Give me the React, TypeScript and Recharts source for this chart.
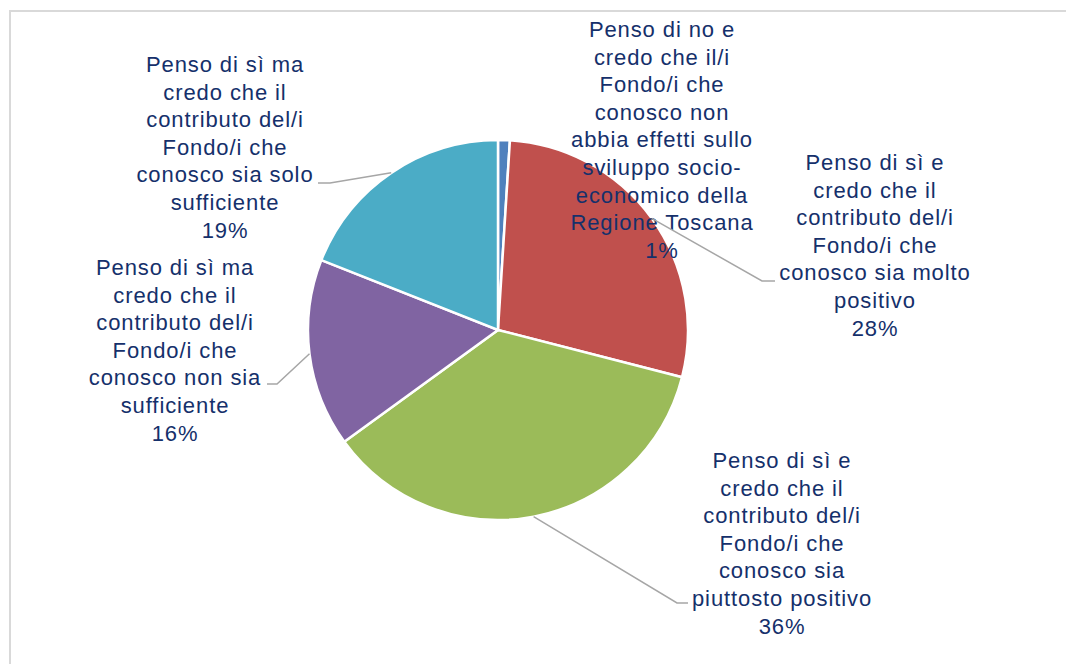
import { PieChart, Pie, Cell } from 'recharts';

const categories = [
  'Penso di no e credo che il/i Fondo/i che conosco non abbia effetti sullo sviluppo socio-economico della Regione Toscana',
  'Penso di sì e credo che il contributo del/i Fondo/i che conosco sia molto positivo',
  'Penso di sì e credo che il contributo del/i Fondo/i che conosco sia piuttosto positivo',
  'Penso di sì ma credo che il contributo del/i Fondo/i che conosco non sia sufficiente',
  'Penso di sì ma credo che il contributo del/i Fondo/i che conosco sia solo sufficiente',
];
const shares = [1, 28, 36, 16, 19];

// how each label wraps in the picture
const labelLines = [
  ['Penso di no e', 'credo che il/i', 'Fondo/i che', 'conosco non', 'abbia effetti sullo', 'sviluppo socio-', 'economico della', 'Regione Toscana'],
  ['Penso di sì e', 'credo che il', 'contributo del/i', 'Fondo/i che', 'conosco sia molto', 'positivo'],
  ['Penso di sì e', 'credo che il', 'contributo del/i', 'Fondo/i che', 'conosco sia', 'piuttosto positivo'],
  ['Penso di sì ma', 'credo che il', 'contributo del/i', 'Fondo/i che', 'conosco non sia', 'sufficiente'],
  ['Penso di sì ma', 'credo che il', 'contributo del/i', 'Fondo/i che', 'conosco sia solo', 'sufficiente'],
];

const COLORS = ['#4F81BD', '#C0504D', '#9BBB59', '#8064A2', '#4BACC6'];
const TEXT = '#15306B';
const LINE_H = 27.6;

// label placement relative to the pie centre: text centre x, first line y,
// and the leader elbow / end (null = no leader)
const labelPos = [
  { dx: 164, dy: -301, elbow: null, end: null },
  { dx: 377, dy: -168, elbow: [264, -49], end: [277, -49] },
  { dx: 284, dy: 130, elbow: [179, 273], end: [190, 273] },
  { dx: -323, dy: -63, elbow: [-221, 54], end: [-231, 54] },
  { dx: -273, dy: -266, elbow: [-168, -147], end: [-180, -147] },
];

const data = categories.map((name, i) => ({ name, value: shares[i] }));

const RAD = Math.PI / 180;

function renderLabel(props: any) {
  const { cx, cy, midAngle, outerRadius } = props;
  let i = props.index;
  if (i === undefined) i = categories.indexOf(props.name);
  const pos = labelPos[i];
  const lines = [...labelLines[i], `${shares[i]}%`];
  const sx = cx + outerRadius * Math.cos(-midAngle * RAD);
  const sy = cy + outerRadius * Math.sin(-midAngle * RAD);
  return (
    <g key={`lbl-${i}`}>
      {pos.elbow && pos.end && (
        <polyline
          points={`${sx},${sy} ${cx + pos.elbow[0]},${cy + pos.elbow[1]} ${cx + pos.end[0]},${cy + pos.end[1]}`}
          fill="none"
          stroke="#A6A6A6"
          strokeWidth={1.5}
        />
      )}
      <text
        x={cx + pos.dx}
        y={cy + pos.dy}
        fill={TEXT}
        fontSize={22}
        letterSpacing={0.9}
        fontFamily="'Liberation Sans', Arial, sans-serif"
        textAnchor="middle"
        dominantBaseline="central"
      >
        {lines.map((l, k) => (
          <tspan key={k} x={cx + pos.dx} y={cy + pos.dy + k * LINE_H}>
            {l}
          </tspan>
        ))}
      </text>
    </g>
  );
}

export default function App() {
  return (
    <div style={{ position: 'relative', width: 1066, height: 664, overflow: 'hidden', background: '#fff' }}>
      <style>{'body{margin:0}'}</style>
      <div
        style={{
          position: 'absolute',
          left: 9,
          top: 10,
          width: 1100,
          height: 700,
          border: '2px solid #D9D9D9',
          boxSizing: 'border-box',
        }}
      />
      <div style={{ position: 'absolute', left: 0, top: 0 }}>
        <PieChart width={1066} height={664} margin={{ top: 0, right: 0, bottom: 0, left: 0 }}>
          <Pie
            data={data}
            dataKey="value"
            nameKey="name"
            cx={498}
            cy={330}
            outerRadius={190}
            startAngle={90}
            endAngle={-270}
            stroke="#FFFFFF"
            strokeWidth={2.5}
            label={renderLabel}
            labelLine={false}
            isAnimationActive={false}
          >
            {data.map((d, i) => (
              <Cell key={d.name} fill={COLORS[i]} />
            ))}
          </Pie>
        </PieChart>
      </div>
    </div>
  );
}
